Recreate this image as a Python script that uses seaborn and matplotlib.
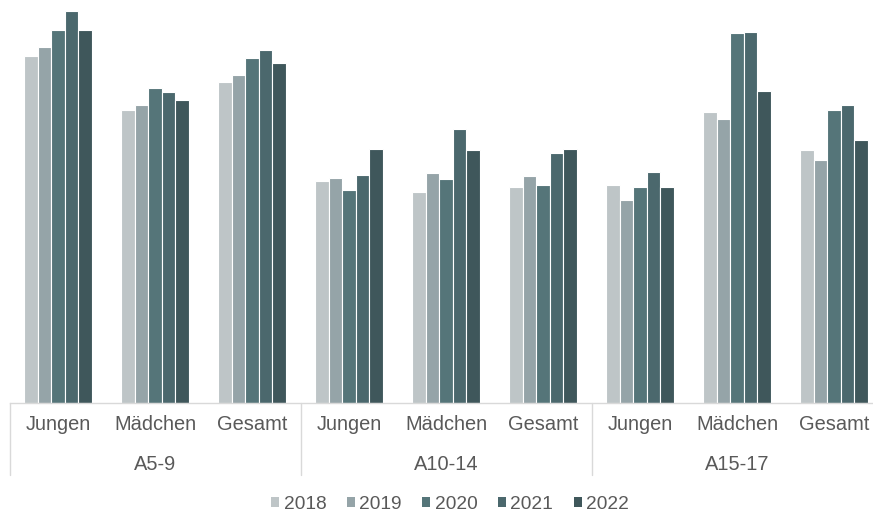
import matplotlib
matplotlib.use("Agg")
import matplotlib.pyplot as plt
import matplotlib.transforms as mtransforms
import pandas as pd
import seaborn as sns

# Categories: three age groups, each split into boys / girls / total
age_groups = ["A5-9", "A10-14", "A15-17"]
sexes = ["Jungen", "Mädchen", "Gesamt"]
years = ["2018", "2019", "2020", "2021", "2022"]

# Values per year, in category order (A5-9 J/M/G, A10-14 J/M/G, A15-17 J/M/G)
v2018 = [34.7, 29.3, 32.1, 22.2, 21.1, 21.6, 21.8, 29.1, 25.3]
v2019 = [35.6, 29.8, 32.8, 22.5, 23.0, 22.7, 20.3, 28.4, 24.3]
v2020 = [37.3, 31.5, 34.5, 21.3, 22.4, 21.8, 21.6, 37.0, 29.3]
v2021 = [39.2, 31.1, 35.3, 22.8, 27.4, 25.0, 23.1, 37.1, 29.8]
v2022 = [37.3, 30.3, 34.0, 25.4, 25.3, 25.4, 21.6, 31.2, 26.3]

colors = ["#BEC5C7", "#95A4A8", "#557579", "#4B686D", "#3F575B"]

series = [v2018, v2019, v2020, v2021, v2022]
categories = [f"{a} {s}" for a in age_groups for s in sexes]
rows = []
for year, vals in zip(years, series):
    for cat, v in zip(categories, vals):
        rows.append({"Kategorie": cat, "Jahr": year, "Wert": v})
df = pd.DataFrame(rows)

sns.set_theme(style="white")
plt.rcParams["font.family"] = ["Liberation Sans", "DejaVu Sans"]
text_color = "#595959"
line_color = "#D9D9D9"

fig = plt.figure(figsize=(8.73, 5.15), dpi=100)
ax = fig.add_axes([9.5 / 873, 1 - 403.3 / 515, 1.0, 403.3 / 515])

sns.barplot(
    data=df, x="Kategorie", y="Wert", hue="Jahr",
    order=categories, hue_order=years,
    palette=dict(zip(years, colors)),
    width=0.7, saturation=1, edgecolor="white", linewidth=0.8,
    ax=ax,
)

ax.set_xlim(-0.5, len(categories) - 0.5)
ax.set_ylim(0, 40.33)
ax.set_xlabel("")
ax.set_ylabel("")
ax.set_yticks([])
for side in ["top", "left", "right"]:
    ax.spines[side].set_visible(False)
ax.spines["bottom"].set_color(line_color)
ax.spines["bottom"].set_linewidth(1.0)

ax.set_xticks(range(len(categories)))
ax.set_xticklabels(sexes * len(age_groups), fontsize=14.4, color=text_color)
ax.tick_params(axis="x", length=0, pad=8.6)

# Second category level: age group labels and separators
trans = mtransforms.blended_transform_factory(ax.transData, ax.transAxes)
for i, grp in enumerate(age_groups):
    center = i * 3 + 1
    ax.text(center, -0.1654, grp, transform=trans, ha="center", va="baseline",
            fontsize=14.4, color=text_color)
for xb in [-0.5, 2.5, 5.5, 8.5]:
    ax.plot([xb, xb], [0, -0.178], transform=trans, color=line_color,
            linewidth=1.0, clip_on=False)

handles, labels = ax.get_legend_handles_labels()
ax.legend(
    handles, labels, loc="center", bbox_to_anchor=(0.5046, -0.2497), ncol=5,
    frameon=False, fontsize=13.8, labelcolor=text_color,
    handlelength=0.43, handleheight=0.43, handletextpad=0.23, columnspacing=1.06,
    borderaxespad=0, borderpad=0,
)
for h in ax.get_legend().legend_handles:
    h.set_edgecolor("none")

fig.savefig("out.png", dpi=100)
